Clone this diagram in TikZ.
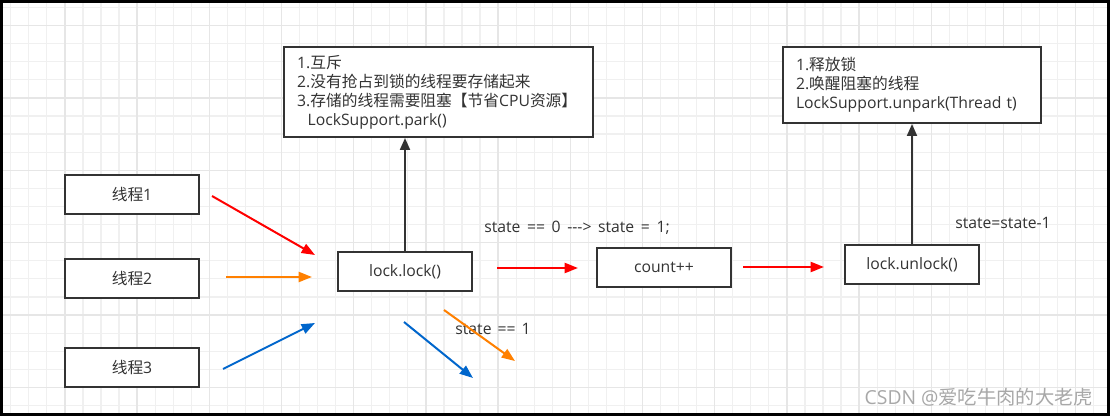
\documentclass[tikz,border=0pt]{standalone}
\usepackage{fontspec}
\setmainfont{Open Sans}
\newfontfamily\cjk{Noto Sans CJK SC}
\usetikzlibrary{arrows.meta}
\definecolor{gridminor}{HTML}{F0F0F0}
\definecolor{gridmajor}{HTML}{E6E6E6}
\definecolor{boxline}{HTML}{333333}
\definecolor{txt}{HTML}{333333}
\definecolor{aorange}{HTML}{FF8000}
\definecolor{ablue}{HTML}{0066CC}
\definecolor{wm}{HTML}{A8A8A8}
\tikzset{
  base/.style={font=\fontsize{11.8pt}{14.25pt}\selectfont, text=txt},
  threadbox/.style={base, draw=boxline, line width=1.5pt, fill=white, minimum width=100.5pt, minimum height=29.25pt, inner sep=0pt},
  notebox/.style={base, draw=boxline, line width=1.5pt, fill=white, align=left, inner xsep=9.75pt, inner ysep=0pt, anchor=center},
  lbl/.style={base, inner sep=0pt},
  conn/.style={draw=boxline, line width=1.5pt, -{Triangle[length=9pt,width=7.5pt]}},
  carrow/.style={line width=1.5pt, -{Triangle[length=10pt,width=7.5pt]}},
}
\begin{document}
\begin{tikzpicture}[x=0.75pt,y=-0.75pt]
\useasboundingbox (0,0) rectangle (1110,416);
\fill[white] (0,0) rectangle (1110,416);
% grid
\foreach \k in {0,...,61} {
  \pgfmathsetmacro{\xx}{10.7+18.05*\k}
  \draw[gridminor, line width=0.9pt] (\xx,0) -- (\xx,416);
}
\foreach \k in {0,...,22} {
  \pgfmathsetmacro{\yy}{7.4+18.1*\k}
  \draw[gridminor, line width=0.9pt] (0,\yy) -- (1110,\yy);
}
\foreach \k in {0,...,14} {
  \pgfmathsetmacro{\xx}{64.85+72.2*\k}
  \draw[gridmajor, line width=1.1pt] (\xx,0) -- (\xx,416);
}
\foreach \k in {0,...,5} {
  \pgfmathsetmacro{\yy}{25.5+72.4*\k}
  \draw[gridmajor, line width=1.1pt] (0,\yy) -- (1110,\yy);
}
% boxes
\node[threadbox] (t1) at (132,194.5) {{\cjk 线程}1};
\node[threadbox] (t2) at (132,278.5) {{\cjk 线程}2};
\node[threadbox] (t3) at (132,367.5) {{\cjk 线程}3};
\node[threadbox] (lock) at (405,271.5) {lock.lock()};
\node[threadbox] (count) at (664,267.5) {count++};
\node[threadbox] (unlock) at (912,264.5) {lock.unlock()};
\node[notebox, text width=212pt, minimum height=67.5pt] (park) at (438.5,92) {1.{\cjk 互斥}\\2.{\cjk 没有抢占到锁的线程要存储起来}\\3.{\cjk 存储的线程需要阻塞【节省}CPU{\cjk 资源】}\\\ \ LockSupport.park()};
\node[notebox, text width=174pt, minimum height=57pt] (unpark) at (912,85) {1.{\cjk 释放锁}\\2.{\cjk 唤醒阻塞的线程}\\LockSupport.unpark(Thread t)};
% labels
\node[lbl] (l1) at (577,228) {\spaceskip=0.42em state == 0 {-}{-}{-}> state = 1;};
\node[lbl] (l2) at (493,329) {\spaceskip=0.38em state == 1};
\node[lbl] (l3) at (1003,223) {state=state-1};
\node[inner sep=0pt, text=wm, font=\fontsize{14.5pt}{16pt}\selectfont] (wmk) at (979,397) {CSDN @{\cjk 爱吃牛肉的大老虎}};
% connectors
\draw[conn] (lock.north) -- (lock.north |- park.south);
\draw[conn] (unlock.north) -- (unlock.north |- unpark.south);
% coloured arrows
\coordinate (r1s) at (212,196); \coordinate (r1e) at (315,255);
\coordinate (o1s) at (226,277); \coordinate (o1e) at (312,277);
\coordinate (b1s) at (223,369); \coordinate (b1e) at (315,323);
\coordinate (r2s) at (497,268); \coordinate (r2e) at (578,268);
\coordinate (r3s) at (743,267); \coordinate (r3e) at (824,267);
\coordinate (o2s) at (444,310); \coordinate (o2e) at (515,361);
\coordinate (b2s) at (404,322); \coordinate (b2e) at (473,378);
\draw[carrow, red] (r1s) -- (r1e);
\draw[carrow, aorange] (o1s) -- (o1e);
\draw[carrow, ablue] (b1s) -- (b1e);
\draw[carrow, red] (r2s) -- (r2e);
\draw[carrow, red] (r3s) -- (r3e);
\draw[carrow, aorange] (o2s) -- (o2e);
\draw[carrow, ablue] (b2s) -- (b2e);
% border
\draw[black, line width=2.25pt] (1.5,1.5) rectangle (1108.5,414.5);
\end{tikzpicture}
\end{document}
